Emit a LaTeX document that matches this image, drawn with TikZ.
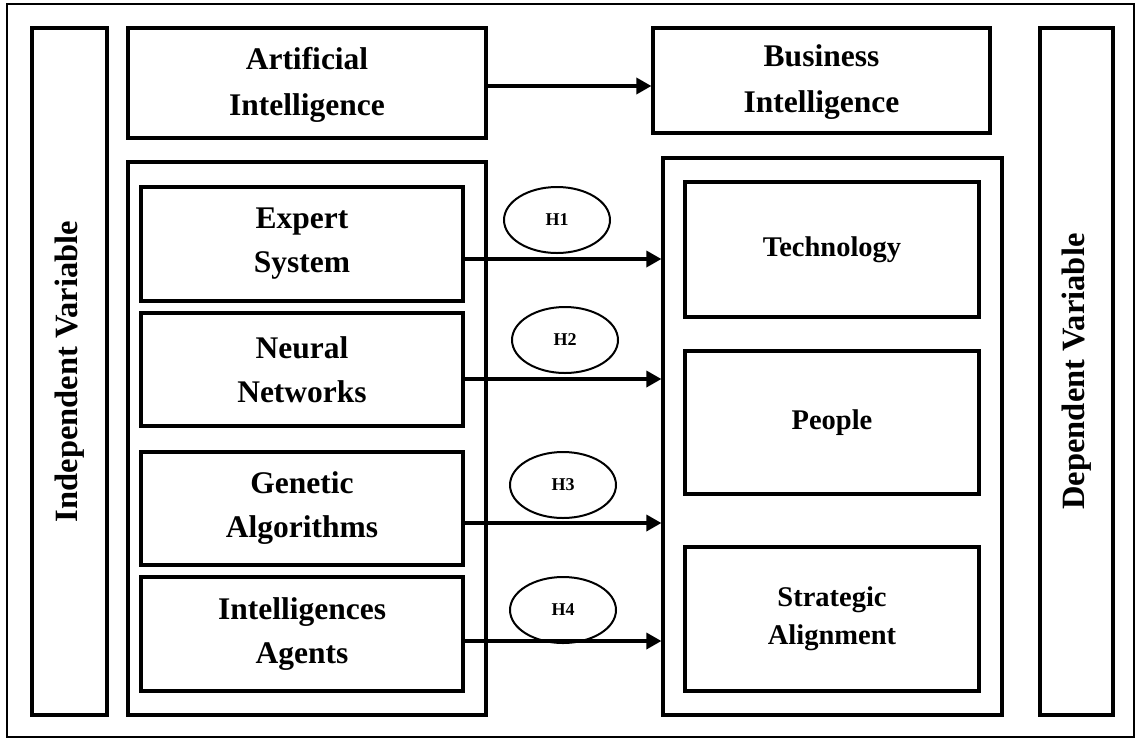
\documentclass[tikz,border=0pt]{standalone}
\usepackage{fontspec}
\setmainfont{Liberation Serif}
\usetikzlibrary{arrows.meta,shapes.geometric}
\tikzset{
  box/.style={draw=black, line width=3.2pt, rectangle, inner sep=0pt, align=center,
    font=\bfseries\fontsize{31.5}{44}\selectfont},
  topbox/.style={box, font=\bfseries\fontsize{31.5}{46}\selectfont},
  rbox/.style={box, font=\bfseries\fontsize{28.5}{38}\selectfont},
  varbox/.style={box, rotate=90, font=\bfseries\fontsize{32.5}{40}\selectfont},
  hyp/.style={draw=black, line width=2pt, ellipse, inner sep=0pt,
    minimum width=106pt, minimum height=66pt, font=\bfseries\fontsize{18}{20}\selectfont},
  link/.style={line width=3.4pt, -{Triangle[length=15pt,width=16pt]}},
}
\begin{document}
\begin{tikzpicture}[x=1pt,y=-1pt]
\useasboundingbox (0,0) rectangle (1139,740);
% outer frame
\node[draw=black, line width=2pt, inner sep=0pt, minimum width=1127pt, minimum height=733pt] (frame) at (570.5,370.5) {};
% side labels
\node[varbox, minimum width=687pt, minimum height=75pt] (iv) at (69.5,371.5) {Independent Variable};
\node[varbox, minimum width=687pt, minimum height=73pt] (dv) at (1076.5,371.5) {Dependent Variable};
% top concepts
\node[topbox, minimum width=358pt, minimum height=110pt, text depth=4pt] (ai) at (307,83) {Artificial\\Intelligence};
\node[topbox, minimum width=337pt, minimum height=105pt, text depth=4pt] (bi) at (821.5,80.5) {Business\\Intelligence};
% containers
\node[box, minimum width=358pt, minimum height=553pt] (lc) at (307,438.5) {};
\node[box, minimum width=339pt, minimum height=557pt] (rc) at (832.5,436.5) {};
% AI techniques
\node[box, minimum width=322pt, minimum height=114pt] (es) at (302,244) {Expert\\System};
\node[box, minimum width=322pt, minimum height=113pt] (nn) at (302,369.5) {Neural\\Networks};
\node[box, minimum width=322pt, minimum height=113pt] (ga) at (302,508.5) {Genetic\\Algorithms};
\node[box, minimum width=322pt, minimum height=114pt] (ia) at (302,634) {Intelligences\\Agents};
% BI dimensions
\node[rbox, minimum width=294pt, minimum height=135pt] (tech) at (832,249.5) {Technology};
\node[rbox, minimum width=294pt, minimum height=143pt] (ppl) at (832,422.5) {People};
\node[rbox, minimum width=294pt, minimum height=144pt] (sa) at (832,619) {Strategic\\Alignment};
% hypotheses
\node[hyp] (h1) at (557,220) {H1};
\node[hyp] (h2) at (565,340) {H2};
\node[hyp] (h3) at (563,485) {H3};
\node[hyp] (h4) at (563,610) {H4};
% arrow rows
\coordinate (y0) at (0,86);
\coordinate (y1) at (0,259);
\coordinate (y2) at (0,379);
\coordinate (y3) at (0,523);
\coordinate (y4) at (0,641);
\draw[link] (ai.east |- y0) -- (bi.west |- y0);
\draw[link] (es.east |- y1) -- (rc.west |- y1);
\draw[link] (nn.east |- y2) -- (rc.west |- y2);
\draw[link] (ga.east |- y3) -- (rc.west |- y3);
\draw[link] (ia.east |- y4) -- (rc.west |- y4);
\end{tikzpicture}
\end{document}
